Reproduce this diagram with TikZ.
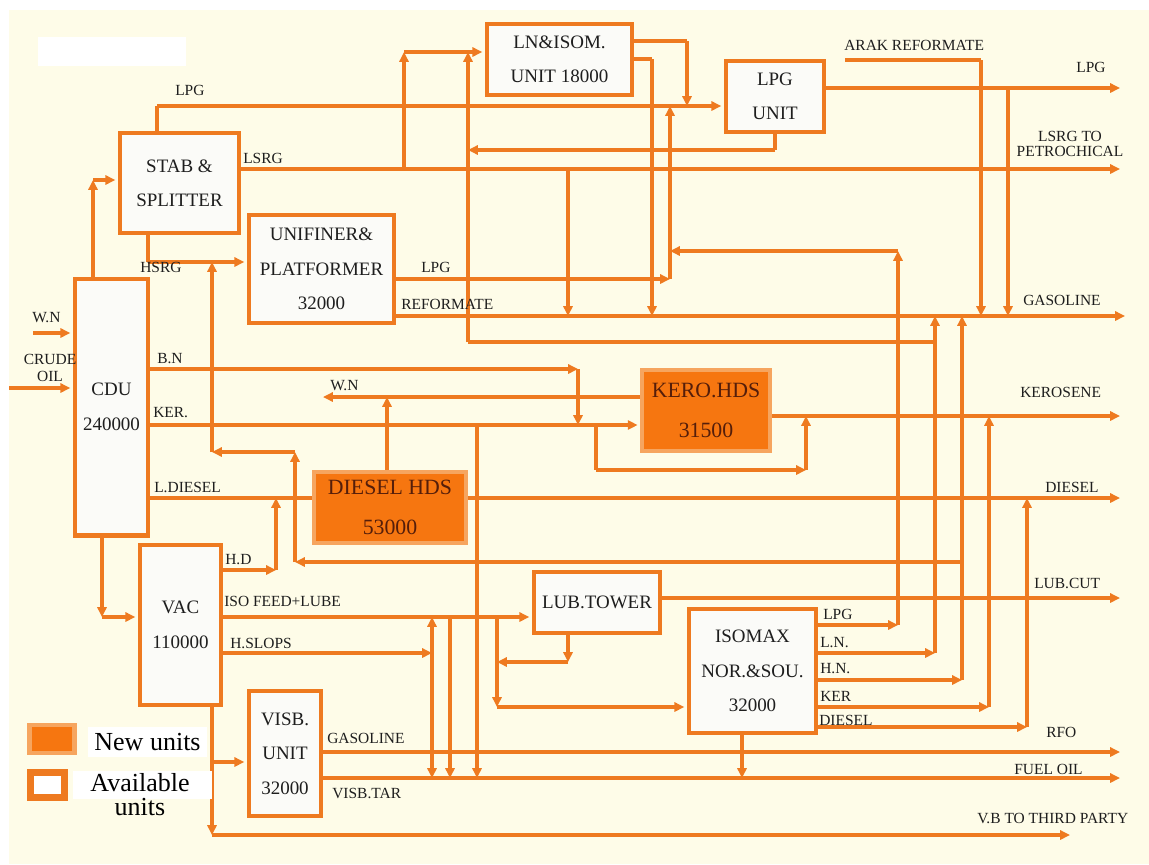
\documentclass[tikz,border=0pt]{standalone}
\usepackage{fontspec}
\setmainfont{Liberation Serif}
\usetikzlibrary{arrows.meta}
\definecolor{orc}{RGB}{238,122,32}
\definecolor{cream}{RGB}{254,252,232}
\definecolor{boxfill}{RGB}{251,251,248}
\definecolor{newfill}{RGB}{246,118,16}
\definecolor{newedge}{RGB}{246,165,95}
\definecolor{newtext}{RGB}{85,30,10}
\definecolor{lbl}{RGB}{30,30,30}
\pgfdeclarelayer{back}
\pgfdeclarelayer{lines}
\pgfsetlayers{back,lines,main}
\begin{document}
\begin{tikzpicture}[x=0.025cm,y=-0.025cm,
  flow/.style={draw=orc,line width=2.3pt},
  arr/.style={flow,-{Triangle[length=7pt,width=6.5pt]}},
  arrin/.style={arr,shorten >=1.6pt},
  unitbox/.style={draw=orc,line width=3.5pt,fill=boxfill,align=center,
    font=\fontsize{13.5}{24.5}\selectfont,text=lbl,inner sep=0pt},
  newbox/.style={draw=newedge,line width=3pt,fill=newfill,align=center,
    font=\fontsize{15.5}{28.5}\selectfont,text=newtext,inner sep=0pt},
  lab/.style={font=\fontsize{11}{13}\selectfont,text=lbl,inner sep=0pt,anchor=west},
  labc/.style={font=\fontsize{11}{13}\selectfont,text=lbl,inner sep=0pt,align=center},
]
\useasboundingbox (0,0) rectangle (1149,864);
\begin{pgfonlayer}{back}
  \fill[white] (0,0) rectangle (1149,864);
  \fill[cream] (9,10) rectangle (1149,864);
  \fill[white] (38,37) rectangle (186,66);
\end{pgfonlayer}

% ---------- units ----------
\node[unitbox,minimum width=2.975cm,minimum height=2.5cm] (stab) at (179.5,183) {STAB \&\\SPLITTER};
\node[unitbox,minimum width=3.625cm,minimum height=2.7cm] (uni) at (321.5,269) {UNIFINER\&\\PLATFORMER\\32000};
\node[unitbox,minimum width=1.825cm,minimum height=6.4cm] (cdu) at (111.5,407) {CDU\\240000};
\node[unitbox,minimum width=3.625cm,minimum height=1.775cm] (lniso) at (559.5,59.5) {LN\&ISOM.\\UNIT 18000};
\node[unitbox,minimum width=2.45cm,minimum height=1.775cm] (lpgu) at (775,96.5) {LPG\\UNIT};
\node[newbox,minimum width=3.2cm,minimum height=2.025cm] (kero) at (706,410.5) {KERO.HDS\\31500};
\node[newbox,minimum width=3.8cm,minimum height=1.775cm] (dsl) at (390,507.5) {DIESEL HDS\\53000};
\node[unitbox,minimum width=2.025cm,minimum height=4.0cm] (vac) at (180.5,625) {VAC\\110000};
\node[unitbox,minimum width=3.15cm,minimum height=1.525cm] (lubt) at (597,602.5) {LUB.TOWER};
\node[unitbox,minimum width=3.175cm,minimum height=3.1cm] (isomax) at (752.5,671) {ISOMAX\\NOR.\&SOU.\\32000};
\node[unitbox,minimum width=1.8cm,minimum height=3.125cm] (visb) at (285,753.5) {VISB.\\UNIT\\32000};

% ---------- junction coordinates ----------
\coordinate (xEnd) at (1120,0);
\coordinate (gasEnd) at (1125,316);
\coordinate (yGas) at (0,316);
\coordinate (yLsrg) at (0,169);
\coordinate (yLpgOut) at (0,88);
\coordinate (yRet) at (0,150);
\coordinate (yUniLpg) at (0,279);
\coordinate (yIsoLpg) at (0,251);
\coordinate (yKer) at (0,425);
\coordinate (yKero) at (0,416);
\coordinate (yDsl) at (0,498);
\coordinate (yIsoF) at (0,617);
\coordinate (yLubC) at (0,598);
\coordinate (yRfo) at (0,752);
\coordinate (yFuel) at (0,778);
\coordinate (yRec2) at (0,562);
\coordinate (wnIn) at (33,333);
\coordinate (crIn) at (9,388);
\coordinate (jStabIn) at (93,180);
\coordinate (jVacIn) at (102,617);
\coordinate (jLpgS) at (157,106);
\coordinate (jHsrg) at (148,262);
\coordinate (jLn) at (404,52);
\coordinate (j468) at (468,342);
\coordinate (j670) at (670,106);
\coordinate (jLo1) at (687,41);
\coordinate (jLo2) at (652,59);
\coordinate (x568) at (568,169);
\coordinate (jLpgG) at (1008,88);
\coordinate (arakA) at (845,60);
\coordinate (arakB) at (981,60);
\coordinate (vLpg) at (898,625);
\coordinate (vLn) at (935,653);
\coordinate (vHn) at (962,680);
\coordinate (vKer) at (989,707);
\coordinate (vDsl) at (1027,727);
\coordinate (jRecA) at (295,562);
\coordinate (jRecB) at (295,452);
\coordinate (jRecC) at (212,452);
\coordinate (jBn) at (578,369);
\coordinate (wnOut) at (323,397);
\coordinate (jWn) at (387,397);
\coordinate (kb1) at (596,470);
\coordinate (kb2) at (806,470);
\coordinate (x477) at (477,425);
\coordinate (jHd) at (276,570);
\coordinate (jHs) at (432,653);
\coordinate (x450) at (450,617);
\coordinate (jIsoIn) at (497,707);
\coordinate (jLubB) at (568,662);
\coordinate (x742) at (742,778);
\coordinate (jVb) at (212,835);
\coordinate (vbEnd) at (1070,835);
\coordinate (jVis) at (212,762);

% ---------- connectors ----------
\begin{pgfonlayer}{lines}
  % feeds to CDU
  \draw[arrin] (wnIn) -- (wnIn -| cdu.west);
  \draw[arrin] (crIn) -- (crIn -| cdu.west);
  % CDU -> STAB
  \draw[arr] (jStabIn |- cdu.north) -- (jStabIn);
  \draw[arrin] (jStabIn) -- (jStabIn -| stab.west);
  % CDU -> VAC
  \draw[arr] (jVacIn |- cdu.south) -- (jVacIn);
  \draw[arrin] (jVacIn) -- (jVacIn -| vac.west);
  % STAB LPG -> LPG unit
  \draw[flow] (jLpgS |- stab.north) -- (jLpgS);
  \draw[arrin] (jLpgS) -- (jLpgS -| lpgu.west);
  % LSRG
  \draw[arr] (stab.east |- yLsrg) -- (xEnd |- yLsrg);
  \draw[arr] (jLn |- yLsrg) -- (jLn);
  \draw[arrin] (jLn) -- (jLn -| lniso.west);
  \draw[arr] (j468) -- (j468 |- jLn);
  \draw[flow] (j468) -- (j468 -| vLn);
  \draw[arr] (x568) -- (x568 |- yGas);
  % LPG unit
  \draw[flow] (lpgu.south) -- (lpgu.south |- yRet);
  \draw[arr] (lpgu.south |- yRet) -- (j468 |- yRet);
  \draw[arr] (lpgu.east |- yLpgOut) -- (xEnd |- yLpgOut);
  \draw[arr] (jLpgG) -- (jLpgG |- yGas);
  % LN & ISOM outputs
  \draw[flow] (lniso.east |- jLo1) -- (jLo1);
  \draw[arr] (jLo1) -- (jLo1 |- jLpgS);
  \draw[flow] (lniso.east |- jLo2) -- (jLo2);
  \draw[arr] (jLo2) -- (jLo2 |- yGas);
  % Arak reformate
  \draw[flow,line width=3pt] (arakA) -- (arakB);
  \draw[arr] (arakB) -- (arakB |- yGas);
  % HSRG
  \draw[flow] (jHsrg |- stab.south) -- (jHsrg);
  \draw[arrin] (jHsrg) -- (jHsrg -| uni.west);
  % Unifiner outputs
  \draw[arr] (uni.east |- yUniLpg) -- (j670 |- yUniLpg);
  \draw[arr] (j670 |- yUniLpg) -- (j670);
  \draw[arr] (uni.east |- yGas) -- (gasEnd);
  % B.N and KER
  \draw[arr] (cdu.east |- jBn) -- (jBn);
  \draw[arr] (jBn) -- (jBn |- yKer);
  \draw[arrin] (cdu.east |- yKer) -- (kero.west |- yKer);
  \draw[arr] (kero.west |- wnOut) -- (wnOut);
  \draw[arr] (jWn |- dsl.north) -- (jWn);
  \draw[flow] (kb1 |- yKer) -- (kb1);
  \draw[arr] (kb1) -- (kb2);
  \draw[arr] (kb2) -- (kb2 |- yKero);
  \draw[arr] (kero.east |- yKero) -- (xEnd |- yKero);
  \draw[arr] (x477) -- (x477 |- yFuel);
  % Diesel
  \draw[flow] (cdu.east |- yDsl) -- (dsl.west |- yDsl);
  \draw[arr] (dsl.east |- yDsl) -- (xEnd |- yDsl);
  % VAC outputs
  \draw[arr] (vac.east |- jHd) -- (jHd);
  \draw[arr] (jHd) -- (jHd |- yDsl);
  \draw[arrin] (vac.east |- yIsoF) -- (lubt.west |- yIsoF);
  \draw[arr] (vac.east |- jHs) -- (jHs);
  \draw[arr] (jHs) -- (jHs |- yIsoF);
  \draw[arr] (jHs) -- (jHs |- yFuel);
  \draw[arr] (x450) -- (x450 |- yFuel);
  \draw[arr] (jIsoIn |- yIsoF) -- (jIsoIn);
  \draw[arrin] (jIsoIn) -- (jIsoIn -| isomax.west);
  \draw[arr] (jVb |- vac.south) -- (jVb);
  \draw[arr] (jVb) -- (vbEnd);
  \draw[arrin] (jVis) -- (jVis -| visb.west);
  % LUB tower
  \draw[arr] (jLubB |- lubt.south) -- (jLubB);
  \draw[arr] (jLubB) -- (jLubB -| jIsoIn);
  \draw[arr] (lubt.east |- yLubC) -- (xEnd |- yLubC);
  % ISOMAX outputs
  \draw[arr] (isomax.east |- vLpg) -- (vLpg);
  \draw[arr] (vLpg) -- (vLpg |- yIsoLpg);
  \draw[arr] (vLpg |- yIsoLpg) -- (j670 |- yIsoLpg);
  \draw[arr] (isomax.east |- vLn) -- (vLn);
  \draw[arr] (vLn) -- (vLn |- yGas);
  \draw[arr] (isomax.east |- vHn) -- (vHn);
  \draw[arr] (vHn) -- (vHn |- yGas);
  \draw[arr] (vHn |- yRec2) -- (jRecA);
  \draw[arr] (jRecA) -- (jRecB);
  \draw[arr] (jRecB) -- (jRecC);
  \draw[arr] (jRecC) -- (jRecC |- jHsrg);
  \draw[arr] (isomax.east |- vKer) -- (vKer);
  \draw[arr] (vKer) -- (vKer |- yKero);
  \draw[arr] (isomax.east |- vDsl) -- (vDsl);
  \draw[arr] (vDsl) -- (vDsl |- yDsl);
  \draw[arr] (x742 |- isomax.south) -- (x742);
  % VISB outputs
  \draw[arr] (visb.east |- yRfo) -- (xEnd |- yRfo);
  \draw[arr] (visb.east |- yFuel) -- (xEnd |- yFuel);
\end{pgfonlayer}

% ---------- stream labels ----------
\node[lab] (lWn) at (32,318) {W.N};
\node[labc] (lCrude) at (50,368) {CRUDE\\[-1.5pt]OIL};
\node[lab] (lLpg1) at (175,90) {LPG};
\node[lab] (lLsrg) at (243,158) {LSRG};
\node[lab] (lHsrg) at (140,267) {HSRG};
\node[lab] (lLpg2) at (421,267) {LPG};
\node[lab] (lRef) at (401,304) {REFORMATE};
\node[lab] (lBn) at (157,359) {B.N};
\node[lab] (lKer) at (153,413) {KER.};
\node[lab] (lLd) at (154,487) {L.DIESEL};
\node[lab] (lWn2) at (330,386) {W.N};
\node[lab] (lHd) at (225,560) {H.D};
\node[lab] (lIsoF) at (224,601) {ISO FEED+LUBE};
\node[lab] (lHsl) at (230,643) {H.SLOPS};
\node[lab] (lVg) at (327,738) {GASOLINE};
\node[lab] (lVt) at (332,793) {VISB.TAR};
\node[lab] (lArak) at (844,45) {ARAK REFORMATE};
\node[lab] (lLpgO) at (1076,67) {LPG};
\node[labc] (lLsrgO) at (1070,144) {LSRG TO\\[-2pt]PETROCHICAL};
\node[lab] (lGas) at (1023,300) {GASOLINE};
\node[lab] (lKero) at (1020,392) {KEROSENE};
\node[lab] (lDsl) at (1045,487) {DIESEL};
\node[lab] (lLub) at (1034,583) {LUB.CUT};
\node[lab] (lRfo) at (1046,732) {RFO};
\node[lab] (lFuel) at (1014,769) {FUEL OIL};
\node[lab] (lVb) at (977,818) {V.B TO THIRD PARTY};
\node[lab] (iLpg) at (823,614) {LPG};
\node[lab] (iLn) at (820,643) {L.N.};
\node[lab] (iHn) at (820,669) {H.N.};
\node[lab] (iKer) at (820,696) {KER};
\node[lab] (iDsl) at (819,720) {DIESEL};

% ---------- legend ----------
\node[draw=newedge,line width=3pt,fill=newfill,minimum width=1.125cm,minimum height=0.7cm,inner sep=0pt] (legNew) at (52,739) {};
\node[fill=white,minimum width=2.975cm,minimum height=0.75cm,inner sep=0pt,font=\fontsize{18.5}{20}\selectfont] (legNewT) at (147.5,742) {New units};
\node[draw=orc,line width=5pt,fill=white,minimum width=0.85cm,minimum height=0.625cm,inner sep=0pt] (legAv) at (47.5,785) {};
\fill[white] (73,771) rectangle (212,799);
\node[align=center,inner sep=0pt,font=\fontsize{18.5}{17}\selectfont] (legAvT) at (140,795) {Available\\units};
\end{tikzpicture}
\end{document}
